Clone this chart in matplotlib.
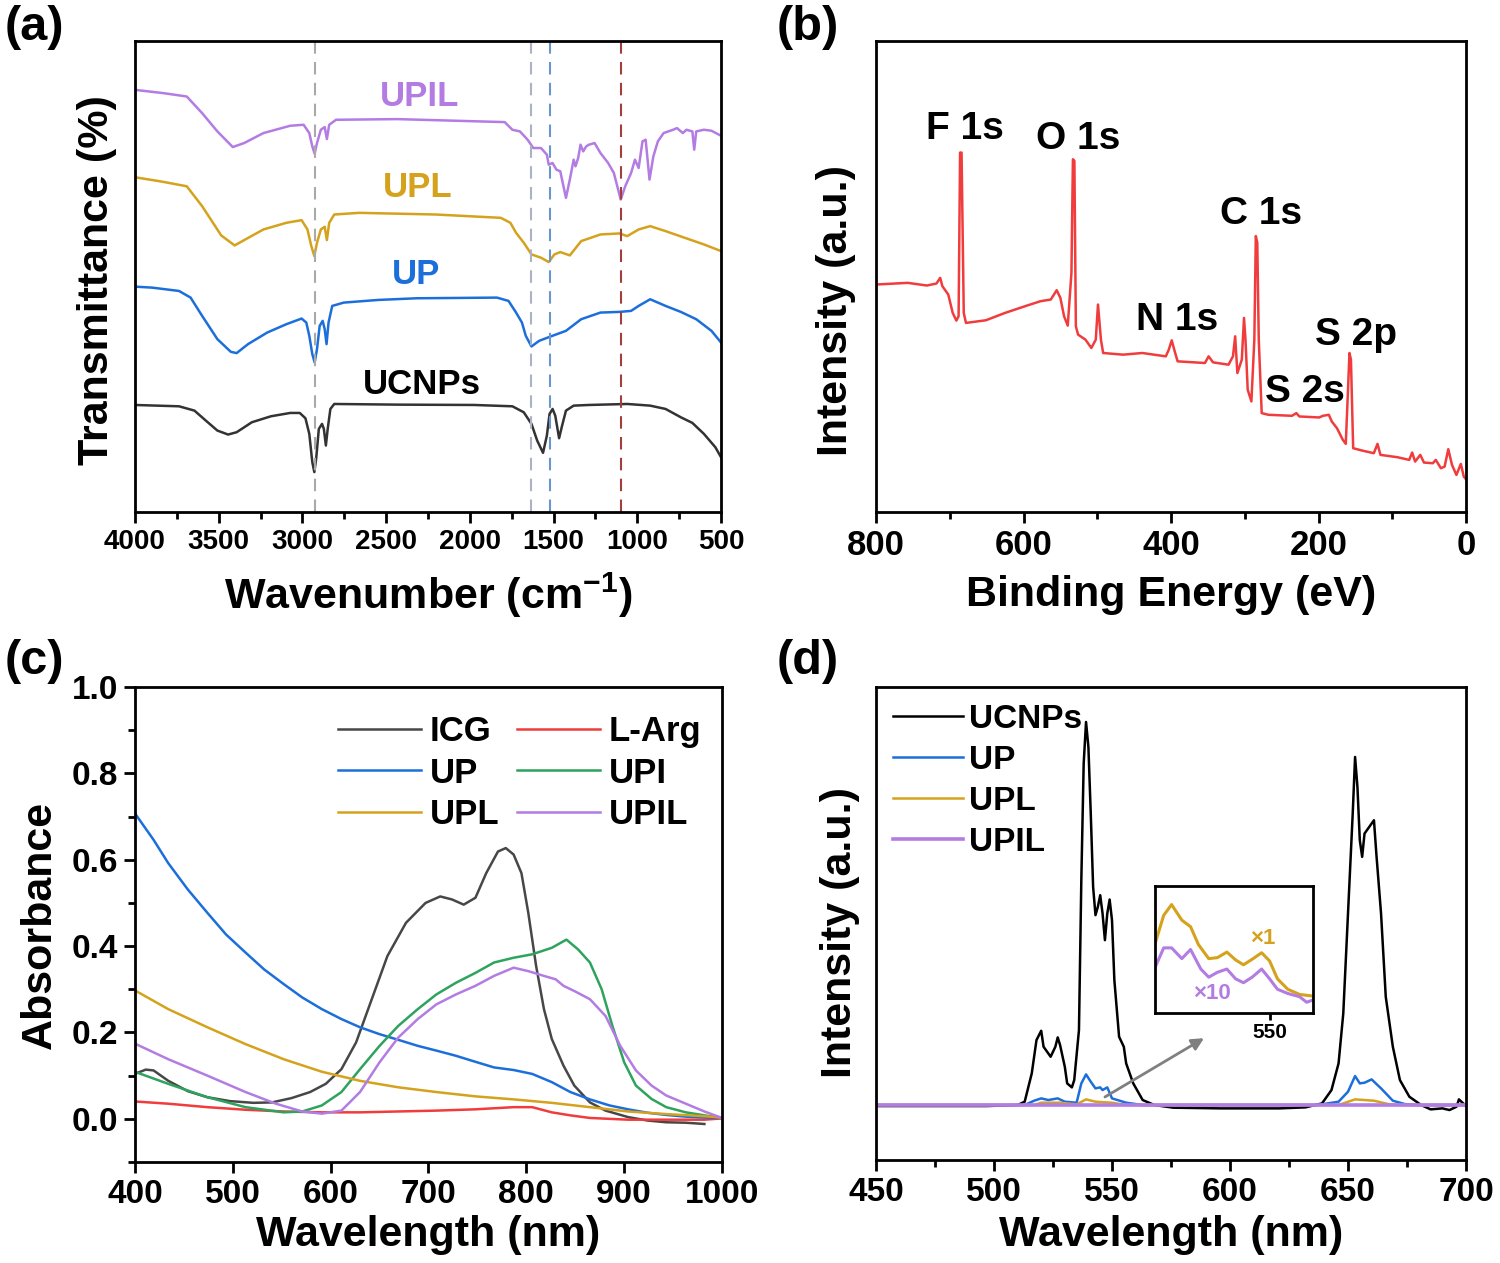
import matplotlib
matplotlib.use("Agg")
import matplotlib.pyplot as plt
from matplotlib.ticker import MultipleLocator, FormatStrFormatter

plt.rcParams['font.family'] = ['Liberation Sans', 'DejaVu Sans']
plt.rcParams['font.weight'] = 'bold'
plt.rcParams['mathtext.fontset'] = 'custom'
plt.rcParams['mathtext.rm'] = 'Liberation Sans:bold'
plt.rcParams['mathtext.it'] = 'Liberation Sans:bold'
plt.rcParams['mathtext.bf'] = 'Liberation Sans:bold'

# ---------------- (a) FTIR ----------------
ftir_ucnps_x = [4000, 3737, 3645, 3577, 3508, 3444, 3393, 3302, 3188, 3073, 3016, 2982, 2959, 2941, 2929, 2918,
                2902, 2883, 2872, 2860, 2849, 2833, 2810, 2433, 1975, 1746, 1678, 1632, 1598, 1563, 1540, 1524,
                1506, 1490, 1467, 1449, 1426, 1380, 1289, 1060, 923, 831, 740, 671, 602, 534, 500]
ftir_ucnps_y = [32.2, 31.8, 30.5, 27.5, 24.5, 23.3, 24.0, 27.0, 28.8, 29.8, 29.8, 28.2, 23.5, 15.0, 12.0, 16.0,
                25.0, 26.5, 25.0, 20.0, 25.0, 31.0, 32.5, 32.3, 32.2, 31.8, 30.0, 26.5, 21.5, 17.8, 23.0, 29.5,
                31.0, 29.0, 22.2, 26.0, 30.5, 32.0, 32.2, 32.5, 32.0, 31.0, 28.5, 26.8, 23.5, 19.5, 16.5]

ftir_up_x = [4000, 3897, 3737, 3668, 3599, 3508, 3428, 3393, 3325, 3210, 3096, 3005, 2977, 2959, 2941, 2927,
             2913, 2897, 2879, 2867, 2856, 2844, 2822, 2753, 2547, 2318, 1838, 1769, 1724, 1689, 1666, 1632,
             1586, 1518, 1426, 1335, 1220, 1106, 1037, 992, 923, 831, 740, 648, 557, 500]
ftir_up_y = [67.8, 67.5, 66.5, 64.5, 59.0, 52.0, 48.2, 47.8, 50.5, 54.0, 56.5, 58.2, 57.0, 53.0, 47.5, 45.0,
             49.0, 56.0, 57.5, 55.0, 50.5, 57.0, 62.0, 63.0, 63.8, 64.3, 64.5, 63.5, 60.0, 57.0, 53.0, 49.8,
             51.5, 52.8, 54.5, 58.0, 60.0, 60.2, 60.5, 62.0, 64.0, 62.0, 60.2, 58.0, 54.5, 51.0]

ftir_upl_x = [4000, 3851, 3691, 3599, 3485, 3405, 3348, 3233, 3096, 3005, 2970, 2947, 2929, 2913, 2890, 2867,
              2854, 2840, 2810, 2661, 2204, 1815, 1758, 1724, 1678, 1632, 1575, 1529, 1495, 1460, 1403, 1335,
              1220, 1106, 1060, 992, 923, 831, 717, 602, 500]
ftir_upl_y = [100.7, 99.5, 98.0, 92.0, 83.2, 80.2, 81.8, 85.0, 87.0, 87.8, 85.0, 80.0, 77.0, 81.0, 85.0, 85.8,
              81.8, 87.0, 89.5, 90.0, 89.5, 88.5, 87.0, 84.0, 81.0, 77.5, 76.5, 75.2, 77.5, 78.2, 77.2, 81.5,
              83.5, 83.8, 83.0, 85.0, 86.0, 84.5, 82.5, 80.5, 78.5]

ftir_upil_x = [4000, 3828, 3691, 3599, 3508, 3416, 3348, 3233, 3073, 2993, 2959, 2941, 2927, 2913, 2890, 2867,
               2854, 2840, 2799, 2433, 1792, 1746, 1701, 1655, 1621, 1575, 1540, 1529, 1506, 1483, 1460, 1426,
               1403, 1380, 1369, 1353, 1339, 1323, 1305, 1289, 1255, 1220, 1174, 1140, 1099, 1072, 1037, 1014,
               992, 969, 950, 927, 904, 877, 843, 786, 763, 728, 706, 671, 660, 648, 602, 557, 500]
ftir_upil_y = [127.0, 126.0, 125.0, 120.0, 114.5, 109.8, 111.0, 114.0, 116.2, 116.5, 114.0, 110.0, 107.8, 111.0,
               115.0, 115.8, 112.2, 116.5, 118.0, 118.2, 117.3, 115.0, 114.5, 112.0, 109.5, 109.5, 107.5, 104.5,
               105.0, 103.0, 102.5, 94.5, 100.0, 106.0, 104.0, 106.5, 110.5, 108.5, 110.0, 110.5, 111.0, 108.0,
               105.0, 102.0, 94.0, 98.0, 102.0, 106.0, 103.5, 111.5, 112.0, 100.0, 107.0, 111.5, 114.0, 115.0,
               115.5, 114.0, 115.0, 114.5, 109.0, 114.5, 115.0, 114.7, 113.2]

ftir_marks = [2925, 1635, 1522, 1097]
ftir_names = ['UCNPs', 'UP', 'UPL', 'UPIL']
ftir_label_pos = [(2286, 38.5), (2322, 71.5), (2310, 97.6), (2298, 124.9)]

# ---------------- (b) XPS ----------------
xps_be = [800, 757, 731, 718, 713, 710, 702, 696, 691, 688, 686, 684, 681, 678, 651, 625, 598, 577, 563, 555,
          550, 545, 540, 535, 533, 531, 529, 526, 516, 508, 502, 499, 495, 492, 465, 439, 407, 403, 399, 395,
          391, 354, 349, 343, 322, 316, 313, 310, 304, 301, 299, 296, 291, 287, 285, 283, 281, 277, 268, 236,
          230, 226, 199, 194, 186, 182, 175, 167, 163, 160, 158, 156, 153, 141, 125, 120, 116, 93, 77, 73, 69,
          62, 57, 45, 41, 34, 29, 24, 19, 13, 7, 3, 0]
xps_int = [68.5, 69.0, 68.2, 68.8, 70.5, 68.0, 65.5, 60.0, 57.7, 59.0, 108.0, 108.0, 60.0, 57.0, 57.8, 60.0,
           62.0, 63.5, 64.0, 66.8, 64.5, 59.0, 56.2, 72.0, 106.0, 105.5, 56.0, 53.5, 52.0, 49.5, 52.0, 62.5,
           52.0, 48.0, 47.5, 48.0, 47.0, 49.0, 51.8, 48.5, 45.5, 45.0, 47.0, 45.2, 44.5, 47.0, 53.0, 42.0, 46.0,
           58.5, 52.0, 37.0, 33.5, 52.0, 83.0, 81.0, 52.0, 30.0, 29.5, 29.2, 30.0, 29.0, 28.7, 29.2, 29.5, 27.5,
           25.5, 22.0, 20.8, 37.0, 48.0, 46.0, 19.5, 18.8, 18.0, 20.8, 17.5, 16.8, 16.0, 18.2, 15.5, 17.5, 15.2,
           15.0, 16.0, 13.5, 14.0, 19.2, 14.5, 11.5, 14.8, 11.0, 10.2]
xps_labels = ['F 1s', 'O 1s', 'N 1s', 'C 1s', 'S 2s', 'S 2p']
xps_label_pos = [(679, 115), (526, 112), (392, 58), (278, 89.5), (218, 36.4), (149, 53.5)]

# ---------------- (c) UV-vis ----------------
icg_x = [401, 411, 419, 434, 454, 474, 497, 521, 540, 560, 579, 595, 611, 626, 642, 658, 677, 697, 712, 724,
         736, 748, 759, 771, 779, 787, 795, 802, 810, 818, 826, 838, 849, 865, 881, 904, 924, 943, 963, 982]
icg_y = [0.105, 0.114, 0.112, 0.088, 0.064, 0.050, 0.041, 0.037, 0.038, 0.048, 0.062, 0.081, 0.115, 0.177,
         0.277, 0.377, 0.454, 0.500, 0.515, 0.508, 0.496, 0.512, 0.569, 0.619, 0.627, 0.612, 0.569, 0.477,
         0.354, 0.254, 0.185, 0.123, 0.077, 0.038, 0.019, 0.004, -0.004, -0.008, -0.009, -0.012]
larg_x = [401, 434, 474, 513, 552, 591, 630, 669, 708, 748, 787, 806, 826, 845, 865, 904, 943, 982, 1000]
larg_y = [0.040, 0.035, 0.027, 0.021, 0.017, 0.015, 0.015, 0.017, 0.019, 0.022, 0.027, 0.027, 0.015, 0.008,
          0.002, -0.002, -0.002, -0.002, 0.001]
up_x = [401, 419, 434, 454, 474, 493, 513, 532, 552, 571, 591, 611, 630, 650, 669, 689, 708, 728, 748, 767,
        787, 806, 826, 845, 865, 885, 904, 924, 943, 963, 982, 1000]
up_y = [0.704, 0.646, 0.592, 0.531, 0.477, 0.427, 0.385, 0.346, 0.312, 0.281, 0.254, 0.231, 0.212, 0.196,
        0.183, 0.169, 0.158, 0.146, 0.132, 0.119, 0.113, 0.104, 0.085, 0.062, 0.045, 0.031, 0.022, 0.014,
        0.009, 0.005, 0.003, 0.002]
upi_x = [401, 434, 474, 513, 552, 571, 591, 611, 630, 650, 669, 689, 708, 728, 748, 767, 787, 806, 826, 841,
         853, 865, 877, 888, 900, 912, 928, 943, 963, 982, 1000]
upi_y = [0.108, 0.081, 0.050, 0.027, 0.015, 0.017, 0.031, 0.062, 0.115, 0.169, 0.215, 0.254, 0.288, 0.315,
         0.338, 0.362, 0.373, 0.381, 0.396, 0.415, 0.392, 0.362, 0.300, 0.215, 0.131, 0.077, 0.046, 0.027,
         0.015, 0.008, 0.002]
upl_x = [401, 434, 474, 513, 552, 591, 630, 669, 708, 748, 787, 826, 865, 904, 943, 982, 1000]
upl_y = [0.296, 0.254, 0.212, 0.173, 0.138, 0.109, 0.088, 0.073, 0.062, 0.052, 0.045, 0.037, 0.027, 0.017,
         0.011, 0.006, 0.003]
upil_x = [401, 434, 474, 513, 544, 571, 591, 611, 630, 650, 669, 689, 708, 728, 748, 767, 787, 802, 818, 830,
          838, 849, 865, 881, 896, 912, 928, 943, 963, 982, 1000]
upil_y = [0.173, 0.138, 0.100, 0.062, 0.035, 0.017, 0.012, 0.019, 0.062, 0.131, 0.188, 0.231, 0.265, 0.288,
          0.308, 0.331, 0.350, 0.342, 0.331, 0.323, 0.308, 0.296, 0.277, 0.238, 0.169, 0.112, 0.077, 0.054,
          0.035, 0.017, 0.002]

# ---------------- (d) Upconversion luminescence ----------------
pl_ucnps_x = [450, 497, 510, 513, 516, 518, 520, 521, 522, 524, 526, 527, 528, 530, 531, 533, 534, 536, 537, 538,
              539, 540, 541, 542, 543, 544, 545, 546, 547, 548, 549, 550, 551, 553, 555, 556, 559, 563, 568, 576,
              596, 621, 632, 639, 643, 646, 648, 650, 652, 653, 654, 655, 656, 657, 658, 659, 661, 662, 664, 666,
              669, 672, 676, 681, 685, 690, 693, 696, 697, 700]
pl_ucnps_y = [-0.3, -0.3, 0.0, 1.0, 9.5, 19.5, 22.3, 17.5, 16.5, 14.5, 17.5, 20.3, 18.0, 11.5, 6.5, 5.3, 7.5,
              22.5, 67.5, 102.5, 115.0, 107.5, 87.5, 65.5, 57.0, 59.5, 63.0, 57.5, 49.5, 57.5, 61.7, 55.5, 37.5,
              20.5, 17.5, 12.5, 6.5, 1.5, 0.0, -0.8, -1.0, -1.0, -0.7, 0.5, 4.5, 12.5, 27.5, 57.5, 87.5, 104.5,
              95.5, 79.5, 74.5, 81.5, 82.5, 83.5, 85.5, 75.5, 57.5, 32.5, 17.5, 7.5, 2.5, 0.0, -1.3, -1.0, -1.5,
              -0.5, 1.7, -0.3]
pl_up_x = [450, 513, 517, 520, 523, 527, 530, 535, 537, 539, 541, 543, 545, 546, 548, 550, 556, 563, 637, 646,
           650, 653, 655, 657, 660, 664, 669, 674, 679, 700]
pl_up_y = [0.0, 0.0, 1.3, 2.0, 1.5, 2.0, 1.0, 0.7, 6.5, 9.2, 7.0, 5.0, 5.3, 4.5, 5.3, 2.0, 0.7, 0.0, 0.0, 1.0,
           4.0, 8.7, 6.5, 6.7, 7.7, 5.0, 1.3, 0.3, 0.0, 0.0]
pl_upl_x = [450, 517, 520, 528, 535, 539, 543, 550, 556, 646, 653, 661, 667, 672, 700]
pl_upl_y = [0.0, 0.0, 0.7, 0.7, 0.2, 1.7, 1.0, 0.7, 0.0, 0.0, 1.7, 1.3, 0.3, 0.0, 0.0]
pl_upil_x = [450, 500, 550, 600, 650, 700]
pl_upil_y = [0.0, 0.0, 0.0, 0.0, 0.0, 0.0]

inset_upl_x = [535.5, 536.5, 537.5, 538.8, 539.9, 540.9, 542.2, 543.3, 544.5, 545.6, 546.6, 547.7, 548.9,
               549.9, 550.9, 552.2, 553.7, 555.4]
inset_upl_y = [22.0, 30.0, 33.3, 28.5, 26.5, 21.0, 16.7, 17.0, 18.7, 16.3, 14.8, 16.5, 18.5, 16.0, 10.5, 7.3,
               5.7, 5.2]
inset_upil_x = [535.5, 536.5, 537.5, 538.8, 539.9, 541.2, 542.2, 543.3, 544.5, 545.6, 546.6, 547.7, 548.9,
                549.9, 550.9, 552.2, 553.7, 554.6, 555.4]
inset_upil_y = [14.5, 20.0, 20.0, 16.7, 19.5, 13.5, 11.0, 12.5, 13.5, 10.5, 9.3, 11.0, 13.5, 10.5, 7.3, 6.0,
                5.0, 3.3, 4.0]

# ---------------- colours ----------------
C_BLACK = '#333333'
C_BLUE = '#1c6fdb'
C_GOLD = '#d4a21c'
C_PURPLE = '#b37ce3'
C_RED = '#f03c3c'
C_GREEN = '#2ea35e'
C_ICG = '#474747'
mark_colors = ['#a9a9a9', '#aab2c8', '#6a96cf', '#a0403a']

W, H = 1500, 1263
fig = plt.figure(figsize=(15, 12.63), dpi=100)


def px_axes(l, t, r, b):
    return fig.add_axes([l / W, 1 - b / H, (r - l) / W, (b - t) / H])


def style(ax, labelsize):
    for s in ax.spines.values():
        s.set_linewidth(2)
    ax.tick_params(which='major', direction='out', length=8, width=2, labelsize=labelsize, pad=4)
    ax.tick_params(which='minor', direction='out', length=5, width=2)
    ax.tick_params(top=False, right=False)
    for lab in ax.get_xticklabels() + ax.get_yticklabels():
        lab.set_fontweight('bold')


def ftext(x, y, s, size, rot=0):
    fig.text(x / W, 1 - y / H, s, fontsize=size, fontweight='bold', rotation=rot, ha='center', va='center')


LW = 1.8

# (a)
axa = px_axes(135, 41, 721, 512)
for xs, ys, c in [(ftir_ucnps_x, ftir_ucnps_y, C_BLACK), (ftir_up_x, ftir_up_y, C_BLUE),
                  (ftir_upl_x, ftir_upl_y, C_GOLD), (ftir_upil_x, ftir_upil_y, C_PURPLE)]:
    axa.plot(xs, ys, color=c, lw=LW)
for m, c in zip(ftir_marks, mark_colors):
    axa.axvline(m, color=c, lw=1.5, ls=(0, (6, 4)))
for name, (x, y), c in zip(ftir_names, ftir_label_pos, ['black', C_BLUE, C_GOLD, C_PURPLE]):
    axa.text(x, y, name, color=c, fontsize=25, fontweight='bold', ha='center', va='center')
axa.set_xlim(4000, 500)
axa.set_ylim(0, 141.7)
axa.xaxis.set_major_locator(MultipleLocator(500))
axa.xaxis.set_minor_locator(MultipleLocator(250))
axa.set_yticks([])
style(axa, 20)

# (b)
axb = px_axes(876, 41, 1466, 512)
axb.plot(xps_be, xps_int, color=C_RED, lw=LW)
for name, (x, y) in zip(xps_labels, xps_label_pos):
    axb.text(x, y, name, fontsize=28, fontweight='bold', ha='center', va='center')
axb.set_xlim(800, 0)
axb.set_ylim(0.4, 141.4)
axb.xaxis.set_major_locator(MultipleLocator(200))
axb.xaxis.set_minor_locator(MultipleLocator(100))
axb.set_yticks([])
style(axb, 25)

# (c)
axc = px_axes(135, 687, 722, 1162)
h_icg, = axc.plot(icg_x, icg_y, color=C_ICG, lw=LW, label='ICG')
h_larg, = axc.plot(larg_x, larg_y, color=C_RED, lw=LW, label='L-Arg')
h_up, = axc.plot(up_x, up_y, color=C_BLUE, lw=LW, label='UP')
h_upi, = axc.plot(upi_x, upi_y, color=C_GREEN, lw=LW, label='UPI')
h_upl, = axc.plot(upl_x, upl_y, color=C_GOLD, lw=LW, label='UPL')
h_upil, = axc.plot(upil_x, upil_y, color=C_PURPLE, lw=LW, label='UPIL')
axc.set_xlim(400, 1000)
axc.set_ylim(-0.1, 1.0)
axc.xaxis.set_major_locator(MultipleLocator(100))
axc.yaxis.set_major_locator(MultipleLocator(0.2))
axc.yaxis.set_minor_locator(MultipleLocator(0.1))
axc.yaxis.set_major_formatter(FormatStrFormatter('%.1f'))
style(axc, 24)
axc.legend([h_icg, h_up, h_upl, h_larg, h_upi, h_upil], ['ICG', 'UP', 'UPL', 'L-Arg', 'UPI', 'UPIL'],
           ncol=2, frameon=False, loc='upper right', bbox_to_anchor=(1.0, 0.985),
           prop={'size': 25, 'weight': 'bold'}, handlelength=2.4, handletextpad=0.25,
           columnspacing=0.5, labelspacing=0.25, borderaxespad=0.2)

# (d)
axd = px_axes(876, 687, 1466, 1160)
h1, = axd.plot(pl_ucnps_x, pl_ucnps_y, color='black', lw=LW, label='UCNPs')
h2, = axd.plot(pl_up_x, pl_up_y, color=C_BLUE, lw=LW, label='UP')
h3, = axd.plot(pl_upl_x, pl_upl_y, color=C_GOLD, lw=LW, label='UPL')
h4, = axd.plot(pl_upil_x, pl_upil_y, color=C_PURPLE, lw=2.6, label='UPIL')
axd.set_xlim(450, 700)
axd.set_ylim(-16.5, 125.5)
axd.xaxis.set_major_locator(MultipleLocator(50))
axd.xaxis.set_minor_locator(MultipleLocator(25))
axd.set_yticks([])
style(axd, 24)
axd.legend(handles=[h1, h2, h3, h4], frameon=False, loc='upper left', bbox_to_anchor=(0.0, 1.0),
           prop={'size': 24, 'weight': 'bold'}, handlelength=2.1, handletextpad=0.2,
           labelspacing=0.3, borderaxespad=0.1)
axd.annotate('', xy=(590, 20.5), xytext=(546, 2.0),
             arrowprops=dict(arrowstyle='-|>', color='#808080', lw=2, mutation_scale=18))

axi = px_axes(1155, 886, 1313, 1013)
axi.plot(inset_upl_x, inset_upl_y, color=C_GOLD, lw=2.2)
axi.plot(inset_upil_x, inset_upil_y, color=C_PURPLE, lw=2.2)
axi.text(549.0, 23.0, '\u00d71', color=C_GOLD, fontsize=16, fontweight='bold', ha='center', va='center')
axi.text(542.6, 6.0, '\u00d710', color=C_PURPLE, fontsize=16, fontweight='bold', ha='center', va='center')
axi.set_xlim(535.4, 555.4)
axi.set_ylim(0, 39)
axi.set_xticks([550])
axi.set_yticks([])
for s in axi.spines.values():
    s.set_linewidth(2)
axi.tick_params(direction='out', length=5, width=2, labelsize=15, pad=2)
for lab in axi.get_xticklabels():
    lab.set_fontweight('bold')

# axis labels & panel labels
ftext(428, 595, 'Wavenumber (cm$^{-1}$)', 31)
ftext(1171, 595, 'Binding Energy (eV)', 31)
ftext(428, 1235, 'Wavelength (nm)', 31)
ftext(1171, 1235, 'Wavelength (nm)', 31)
ftext(97, 280, 'Transmittance (%)', 31, rot=90)
ftext(836, 310, 'Intensity (a.u.)', 31, rot=90)
ftext(40, 925, 'Absorbance', 31, rot=90)
ftext(840, 932, 'Intensity (a.u.)', 31, rot=90)
ftext(34, 27, '(a)', 35)
ftext(808, 27, '(b)', 35)
ftext(34, 662, '(c)', 35)
ftext(808, 662, '(d)', 35)

fig.savefig('out.png', dpi=100)
